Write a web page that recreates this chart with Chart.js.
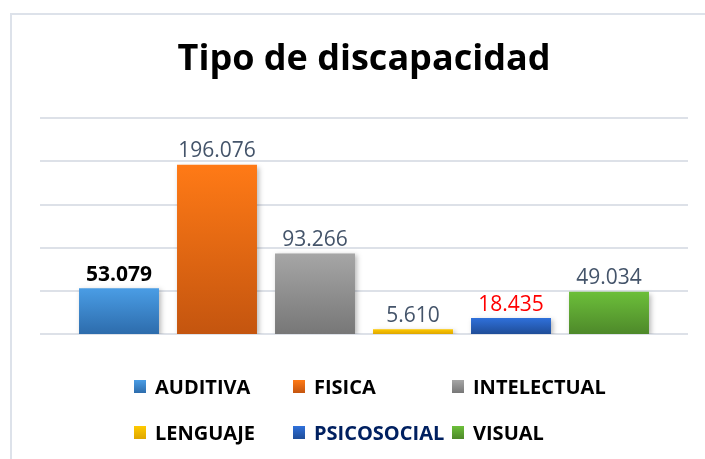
<!DOCTYPE html>
<html>
<head>
<meta charset="utf-8">
<script src="https://cdn.jsdelivr.net/npm/chart.js@4.4.1/dist/chart.umd.min.js"></script>
<style>
  html, body { margin: 0; padding: 0; background: #fff; }
  #wrap { position: relative; width: 705px; height: 459px; overflow: hidden; }
  #frame { position: absolute; left: 10px; top: 13px; right: 0; bottom: 0;
           border-left: 2px solid #dde2ea; border-top: 2px solid #dde2ea; }
  #chartBox { position: absolute; left: 0; top: 0; width: 705px; height: 459px; }
  #legend { position: absolute; left: 134px; top: 372px;
            display: grid; grid-template-columns: 159px 159px 159px; row-gap: 17px;
            font-family: "Open Sans", sans-serif; font-weight: 700; font-size: 20px; }
  .item { display: flex; align-items: center; height: 29px; white-space: nowrap; }
  .box { width: 12px; height: 13px; margin-right: 9px; flex: none; }
</style>
</head>
<body>
<div id="wrap">
  <div id="frame"></div>
  <div id="chartBox"><canvas id="discChart" width="705" height="459"></canvas></div>
  <div id="legend"></div>
</div>
<script>
// === Data ===
const categories = ['AUDITIVA', 'FISICA', 'INTELECTUAL', 'LENGUAJE', 'PSICOSOCIAL', 'VISUAL'];
const values = [53079, 196076, 93266, 5610, 18435, 49034];
const valueLabels = ['53.079', '196.076', '93.266', '5.610', '18.435', '49.034'];
const yTicks = [0, 50000, 100000, 150000, 200000, 250000];

// === Styles ===
const topColors = ['#4a9de5', '#ff7a16', '#a6a6a6', '#ffca00', '#2f70da', '#6cbf3a'];
const bottomColors = ['#2d6cac', '#c4550f', '#777777', '#dea600', '#1f4d98', '#4e892a'];
const labelColors = ['#000000', '#44546a', '#44546a', '#44546a', '#ff0000', '#44546a'];
const labelBold = [true, false, false, false, false, false];
const legendTextColors = ['#000', '#000', '#000', '#000', '#002060', '#000'];

function barGradient(ctx) {
    const chart = ctx.chart;
    const i = ctx.dataIndex;
    if (!chart.chartArea || !chart.scales.y) return topColors[i];
    const yScale = chart.scales.y;
    const top = yScale.getPixelForValue(values[i]);
    const bottom = yScale.getPixelForValue(0);
    const g = chart.ctx.createLinearGradient(0, top, 0, bottom);
    g.addColorStop(0, topColors[i]);
    g.addColorStop(1, bottomColors[i]);
    return g;
}

// gridlines drawn a bit wider than the category area, like the original
const gridPlugin = {
    id: 'wideGrid',
    beforeDatasetsDraw(chart) {
        const { ctx, chartArea, scales } = chart;
        ctx.save();
        ctx.strokeStyle = '#dde1e8';
        ctx.lineWidth = 2;
        yTicks.forEach(t => {
            const y = Math.round(scales.y.getPixelForValue(t));
            ctx.beginPath();
            ctx.moveTo(chartArea.left - 30, y);
            ctx.lineTo(chartArea.right + 30, y);
            ctx.stroke();
        });
        ctx.restore();
        // soft shadow for bars
        ctx.save();
        ctx.shadowColor = 'rgba(0,0,0,0.28)';
        ctx.shadowBlur = 5;
        ctx.shadowOffsetX = 2;
        ctx.shadowOffsetY = 2;
    },
    afterDatasetsDraw(chart) {
        const ctx = chart.ctx;
        ctx.restore();
        // value labels
        const meta = chart.getDatasetMeta(0);
        ctx.save();
        ctx.textAlign = 'center';
        ctx.textBaseline = 'bottom';
        meta.data.forEach((bar, i) => {
            ctx.font = (labelBold[i] ? '700 ' : '400 ') + '21px "Open Sans", sans-serif';
            ctx.fillStyle = labelColors[i];
            ctx.fillText(valueLabels[i], bar.x, bar.y - 3);
        });
        ctx.restore();
    }
};

const ctxDisc = document.getElementById('discChart').getContext('2d');
const discChart = new Chart(ctxDisc, {
    type: 'bar',
    data: {
        labels: categories,
        datasets: [{
            label: 'Tipo de discapacidad',
            data: values,
            backgroundColor: barGradient,
            borderWidth: 0,
            barPercentage: 0.816,
            categoryPercentage: 1.0
        }]
    },
    options: {
        responsive: false,
        animation: false,
        layout: { padding: { left: 70, right: 47, top: 0, bottom: 125 } },
        plugins: {
            legend: { display: false },
            tooltip: { enabled: false },
            title: {
                display: true,
                text: 'Tipo de discapacidad',
                color: '#000',
                font: { family: '"Open Sans", sans-serif', size: 36, weight: '700', lineHeight: 1.2 },
                padding: { top: 38, bottom: 37 }
            }
        },
        scales: {
            x: { display: false },
            y: { display: false, min: 0, max: 250000 }
        }
    },
    plugins: [gridPlugin]
});

// === Legend (3 columns grid) ===
const legendEl = document.getElementById('legend');
categories.forEach((name, i) => {
    const item = document.createElement('div');
    item.className = 'item';
    const box = document.createElement('span');
    box.className = 'box';
    box.style.background = `linear-gradient(${topColors[i]}, ${bottomColors[i]})`;
    const txt = document.createElement('span');
    txt.textContent = name;
    txt.style.color = legendTextColors[i];
    item.appendChild(box);
    item.appendChild(txt);
    legendEl.appendChild(item);
});
</script>
</body>
</html>
